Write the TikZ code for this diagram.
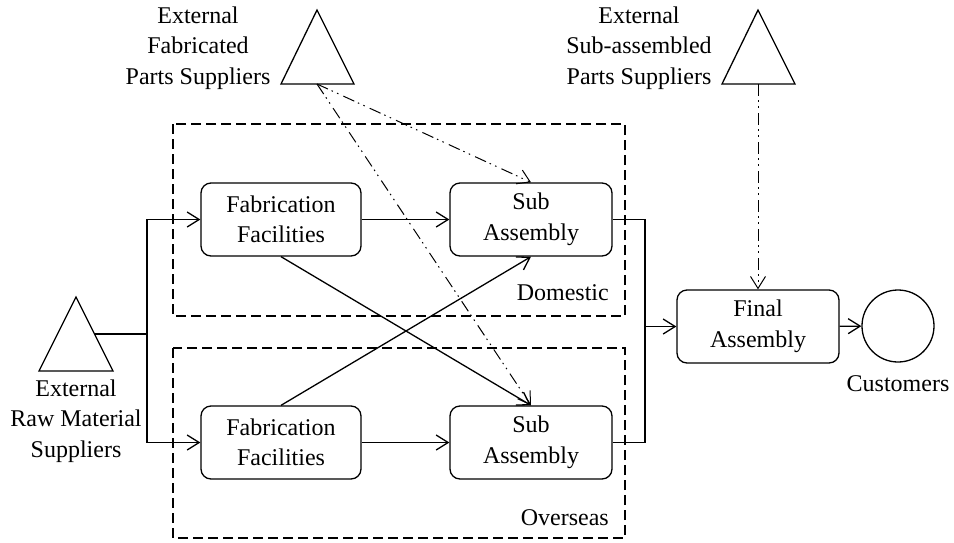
\documentclass[tikz,border=0pt]{standalone}
\usepackage{fontspec}
\setmainfont{LiberationSerif}[Extension=.ttf,UprightFont=*-Regular,BoldFont=*-Bold]
\usetikzlibrary{arrows.meta}
\begin{document}
\begin{tikzpicture}[x=1pt,y=-1pt,
  every node/.style={font=\fontsize{24}{30.5}\selectfont},
  facility/.style={draw,line width=1.3pt,rounded corners=10pt,align=center,inner sep=0pt},
  arr/.style={line width=1.3pt,-{Straight Barb[length=12pt,width=15pt,line width=1.3pt]}},
  conn/.style={line width=1.3pt},
  dd/.style={line width=1pt,dash pattern=on 12pt off 4pt on 1.5pt off 4.5pt on 1.5pt off 5.5pt},
  region/.style={line width=1.1pt,dash pattern=on 10pt off 5pt},
  supplier/.style={line width=1.3pt},
  lbl/.style={align=center,inner sep=0pt}]
\useasboundingbox (0,0) rectangle (954,542);

% regions
\draw[region] (173,124) rectangle (625,316);
\draw[region] (173,348) rectangle (625,538);
\node[lbl,anchor=east] (dom) at (609,293) {Domestic};
\node[lbl,anchor=east] (ovs) at (609,518) {Overseas};

% facilities
\node[facility,minimum width=160pt,minimum height=73pt] (fabD) at (281,219.5) {Fabrication\\Facilities};
\node[facility,minimum width=162pt,minimum height=73pt] (subD) at (531,219.5) {Sub\\Assembly};
\node[facility,minimum width=160pt,minimum height=73pt] (fabO) at (281,442.5) {Fabrication\\Facilities};
\node[facility,minimum width=162pt,minimum height=73pt] (subO) at (531,442.5) {Sub\\Assembly};
\node[facility,minimum width=162pt,minimum height=73pt] (final) at (758,326.5) {Final\\Assembly};
\node[draw,circle,line width=1.3pt,minimum size=72pt,inner sep=0pt] (cust) at (898,326) {};
\node[lbl] (custL) at (898,384) {Customers};

% suppliers (triangles)
\draw[supplier] (317,10) coordinate (fpA) -- (354,84) -- (281,84) -- cycle;
\coordinate (fpB) at (317,84);
\node[lbl] (fpL) at (198,48) {External\\Fabricated\\Parts Suppliers};

\draw[supplier] (758,10) coordinate (spA) -- (795,84) -- (722,84) -- cycle;
\coordinate (spB) at (758,84);
\node[lbl] (spL) at (639,48) {External\\Sub-assembled\\Parts Suppliers};

\draw[supplier] (76,297) coordinate (rmA) -- (113,371) -- (39,371) -- cycle;
\coordinate (rmR) at (94.5,334);
\node[lbl] (rmL) at (76,421) {External\\Raw Material\\Suppliers};

% connectors
\coordinate (jr) at (147,334);
\draw[conn] (rmR) -- (jr);
\draw[arr] (jr) |- (fabD);
\draw[arr] (jr) |- (fabO);
\draw[arr] (fabD) -- (subD);
\draw[arr] (fabO) -- (subO);
\draw[arr] (fabD.south) -- (subO.north);
\draw[arr] (fabO.north) -- (subD.south);
\coordinate (jf) at (645,326.5);
\draw[conn] (subD) -| (jf);
\draw[conn] (subO) -| (jf);
\draw[arr] (jf) -- (final);
\draw[arr] (final) -- (cust);

% dash-dot supply links
\draw[dd,-{Straight Barb[length=12pt,width=15pt,line width=1pt]}] (fpB) -- (subD.north);
\draw[dd,-{Straight Barb[length=12pt,width=15pt,line width=1pt]}] (fpB) -- (subO.north);
\draw[dd,-{Straight Barb[length=12pt,width=15pt,line width=1pt]}] (spB) -- (final.north);
\end{tikzpicture}
\end{document}
